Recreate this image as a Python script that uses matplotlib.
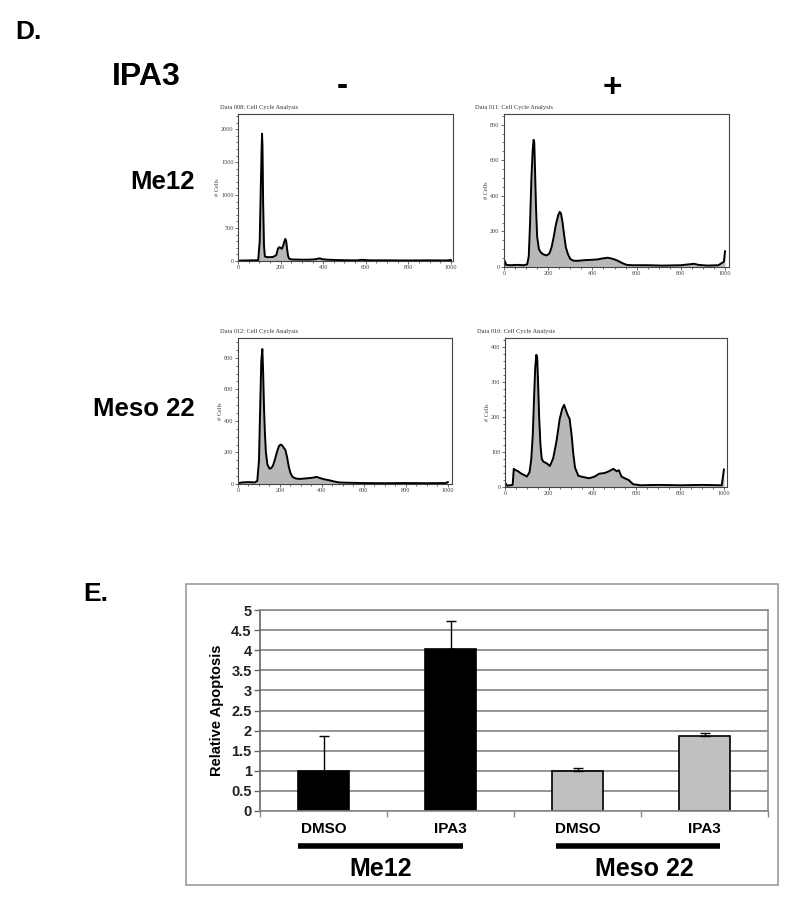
import matplotlib
matplotlib.use("Agg")
from matplotlib import pyplot as plt
from matplotlib.ticker import MultipleLocator
from matplotlib.patches import Rectangle
from matplotlib.transforms import blended_transform_factory
import numpy as np

plt.rcParams['font.family'] = ['Liberation Sans', 'DejaVu Sans']

# ---- panel D: cell cycle histograms (channel, count) ----
me12_dmso_x = [0, 20, 40, 60, 80, 95, 102, 107, 111, 113, 115, 118, 122, 126, 135, 150, 165, 180, 188, 195,
               200, 206, 212, 218, 222, 226, 230, 235, 240, 250, 270, 300, 330, 360, 375, 385, 395, 420,
               460, 500, 560, 580, 620, 700, 800, 900, 980, 1000]
me12_dmso_y = [5, 8, 8, 10, 10, 12, 300, 1100, 1700, 1930, 1750, 900, 250, 70, 60, 58, 62, 90, 190, 210,
               200, 185, 230, 300, 335, 310, 200, 80, 35, 25, 22, 20, 20, 25, 35, 40, 28, 20,
               15, 12, 10, 18, 10, 10, 8, 10, 8, 15]

me12_ipa3_x = [0, 3, 10, 30, 60, 90, 105, 112, 118, 124, 130, 134, 137, 140, 145, 150, 158, 168, 180, 192,
               205, 215, 225, 235, 245, 252, 258, 265, 272, 280, 290, 300, 315, 335, 360, 390, 420, 445,
               470, 495, 515, 535, 555, 580, 650, 720, 800, 860, 880, 920, 970, 995, 1000]
me12_ipa3_y = [5, 35, 12, 10, 12, 10, 15, 60, 250, 500, 660, 715, 700, 560, 330, 170, 100, 80, 70, 65,
               75, 110, 170, 240, 290, 310, 300, 250, 180, 110, 70, 45, 35, 35, 38, 40, 42, 48,
               52, 45, 35, 22, 12, 10, 10, 8, 10, 18, 12, 8, 10, 30, 88]

meso_dmso_x = [0, 20, 50, 80, 92, 100, 106, 111, 116, 120, 124, 128, 133, 140, 150, 158, 166, 175, 185, 195,
               203, 210, 218, 226, 234, 242, 250, 260, 275, 295, 320, 345, 365, 375, 390, 410, 430, 455,
               480, 520, 600, 700, 800, 900, 990, 1000]
meso_dmso_y = [5, 10, 12, 10, 20, 150, 500, 780, 855, 700, 480, 330, 200, 125, 97, 100, 115, 150, 200, 240,
               250, 245, 230, 215, 170, 110, 70, 45, 35, 32, 35, 38, 42, 45, 38, 30, 25, 17,
               10, 8, 6, 5, 6, 5, 6, 12]

meso_ipa3_x = [0, 3, 10, 25, 35, 40, 48, 58, 70, 85, 100, 112, 120, 127, 133, 138, 143, 147, 151, 156,
               162, 168, 176, 190, 205, 220, 235, 250, 262, 270, 278, 287, 295, 304, 312, 320, 335, 360,
               385, 410, 430, 455, 475, 495, 510, 520, 532, 550, 565, 585, 620, 700, 800, 900, 990, 1000]
meso_ipa3_y = [2, 10, 4, 5, 6, 52, 48, 46, 40, 35, 30, 42, 80, 150, 260, 340, 378, 370, 300, 200,
               120, 80, 72, 68, 60, 82, 130, 195, 225, 235, 220, 205, 195, 150, 95, 55, 32, 28,
               25, 30, 38, 40, 45, 52, 45, 48, 30, 24, 20, 8, 5, 6, 5, 6, 5, 50]

hist_titles = ["Data 008: Cell Cycle Analysis", "Data 011: Cell Cycle Analysis",
               "Data 012: Cell Cycle Analysis", "Data 010: Cell Cycle Analysis"]

# ---- panel E: relative apoptosis ----
conditions = ["DMSO", "IPA3", "DMSO", "IPA3"]
cell_lines = ["Me12", "Meso 22"]
apoptosis = [1.0, 4.03, 1.0, 1.86]
apoptosis_err = [0.87, 0.70, 0.08, 0.07]
bar_colors = ["black", "black", "#c0c0c0", "#c0c0c0"]

W, H = 800, 900
fig = plt.figure(figsize=(8, 9), dpi=100)


def px_axes(left, top, right, bottom):
    return fig.add_axes([left / W, 1 - bottom / H, (right - left) / W, (bottom - top) / H])


def cell_hist(ax, x, y, ymax, xmax, ymaj, ymin, title, title_dx):
    ax.fill_between(x, y, color="#b8b8b8", lw=0)
    ax.plot(x, y, color="black", lw=1.4)
    ax.set_xlim(0, xmax)
    ax.set_ylim(0, ymax)
    ax.xaxis.set_major_locator(MultipleLocator(200))
    ax.xaxis.set_minor_locator(MultipleLocator(50))
    ax.yaxis.set_major_locator(MultipleLocator(ymaj))
    ax.yaxis.set_minor_locator(MultipleLocator(ymin))
    ax.tick_params(which="both", direction="out", width=0.5, labelsize=4.5, pad=1,
                   colors="#333333", labelcolor="#444444")
    ax.tick_params(which="major", length=2.2)
    ax.tick_params(which="minor", length=1.2)
    for lab in ax.get_xticklabels() + ax.get_yticklabels():
        lab.set_family("Liberation Serif")
    for s in ax.spines.values():
        s.set_color("#444444")
        s.set_linewidth(0.8)
    ax.set_ylabel("# Cells", fontsize=4.5, family="Liberation Serif", labelpad=1, color="#444444")
    ax.text(title_dx, 1.025, title, transform=ax.transAxes, fontsize=4.6,
            family="Liberation Serif", color="#333333", ha="left", va="bottom")


ax1 = px_axes(238, 114, 453, 261)
cell_hist(ax1, me12_dmso_x, me12_dmso_y, 2230, 1010, 500, 100, hist_titles[0], -0.085)
ax2 = px_axes(504, 114, 729, 267)
cell_hist(ax2, me12_ipa3_x, me12_ipa3_y, 860, 1018, 200, 50, hist_titles[1], -0.13)
ax3 = px_axes(238, 338, 452, 484)
cell_hist(ax3, meso_dmso_x, meso_dmso_y, 925, 1020, 200, 50, hist_titles[2], -0.085)
ax4 = px_axes(505, 338, 727, 487)
cell_hist(ax4, meso_ipa3_x, meso_ipa3_y, 426, 1014, 100, 20, hist_titles[3], -0.125)

# figure labels
fig.text(15 / W, 1 - 32 / H, "D.", fontsize=19, fontweight="bold", va="center")
fig.text(112 / W, 1 - 77 / H, "IPA3", fontsize=23, fontweight="bold", va="center")
fig.text(342 / W, 1 - 86 / H, "-", fontsize=24, fontweight="bold", ha="center", va="center")
fig.text(612 / W, 1 - 88 / H, "+", fontsize=24, fontweight="bold", ha="center", va="center")
fig.text(195 / W, 1 - 182 / H, cell_lines[0], fontsize=18.5, fontweight="bold", ha="right", va="center")
fig.text(195 / W, 1 - 409 / H, cell_lines[1], fontsize=18.5, fontweight="bold", ha="right", va="center")
fig.text(83 / W, 1 - 594 / H, "E.", fontsize=19, fontweight="bold", va="center")

# outer box of the bar chart
fig.patches.append(Rectangle((186 / W, 1 - 885 / H), (778 - 186) / W, (885 - 584) / H,
                             transform=fig.transFigure, fill=False, ec="#9a9a9a", lw=1.2))

ax5 = px_axes(260, 610, 768, 811)
xpos = np.arange(len(apoptosis))
ax5.set_axisbelow(True)
ax5.yaxis.grid(True, color="#8c8c8c", lw=1.3)
ax5.bar(xpos, apoptosis, width=0.405, color=bar_colors, edgecolor="black", lw=1.2, zorder=2)
ax5.errorbar(xpos, apoptosis, yerr=[np.zeros(len(apoptosis)), apoptosis_err], fmt="none",
             ecolor="black", elinewidth=1.0, capsize=3.5, capthick=1.0, zorder=3)
ax5.set_xlim(-0.5, 3.5)
ax5.set_ylim(0, 5)
ax5.set_yticks(np.arange(0, 5.01, 0.5))
ax5.set_yticklabels(["0", "0.5", "1", "1.5", "2", "2.5", "3", "3.5", "4", "4.5", "5"])
ax5.set_xticks(np.arange(-0.5, 3.6, 1.0))
ax5.set_xticklabels([])
ax5.tick_params(axis="y", direction="out", length=4, width=1, color="#666666",
                labelsize=10.5, pad=2)
ax5.tick_params(axis="x", direction="out", length=4, width=1, color="#888888")
for lab in ax5.get_yticklabels():
    lab.set_fontweight("bold")
    lab.set_color("#222222")
ax5.spines["left"].set_color("#666666")
ax5.spines["bottom"].set_color("#888888")
ax5.spines["right"].set_color("#8c8c8c")
ax5.spines["top"].set_color("#8c8c8c")
for s in ax5.spines.values():
    s.set_linewidth(1.2)
ax5.set_ylabel("Relative Apoptosis", fontsize=10.5, fontweight="bold", labelpad=5)

tr = blended_transform_factory(ax5.transData, fig.transFigure)
for i, c in enumerate(conditions):
    ax5.text(xpos[i], 1 - 829 / H, c, transform=tr, fontsize=11, fontweight="bold",
             ha="center", va="center")
group_span = [(-0.2, 1.1), (1.83, 3.12)]
group_mid = [0.45, 2.53]
for (a, b), m, name in zip(group_span, group_mid, cell_lines):
    ax5.plot([a, b], [1 - 846 / H] * 2, transform=tr, color="black", lw=4,
             solid_capstyle="butt", clip_on=False)
    ax5.text(m, 1 - 869 / H, name, transform=tr, fontsize=18, fontweight="bold",
             ha="center", va="center")

fig.savefig("out.png", dpi=100, facecolor="white")
